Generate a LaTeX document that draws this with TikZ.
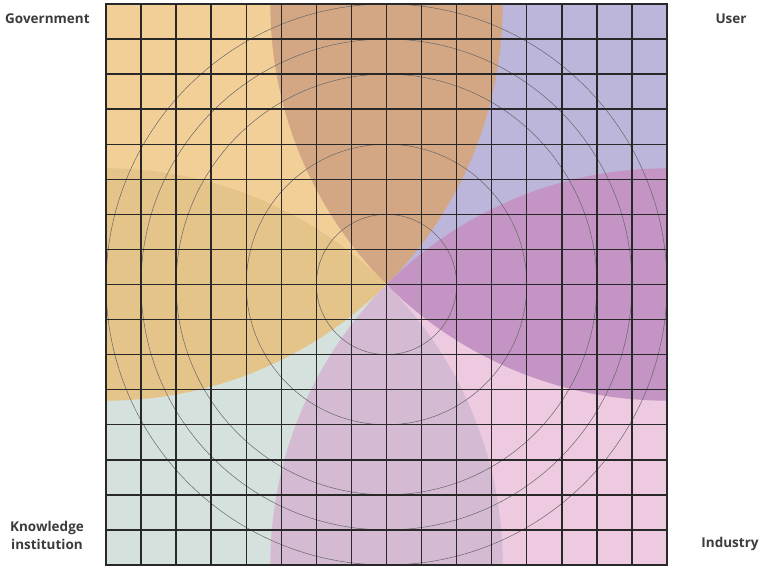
\documentclass[tikz,border=0pt]{standalone}
\usepackage{fontspec}
\setmainfont{Open Sans}
\usepackage{tikz}
\definecolor{GovOrange}{RGB}{243,207,152}
\definecolor{UserLavender}{RGB}{188,182,219}
\definecolor{KnowTeal}{RGB}{212,225,221}
\definecolor{IndPink}{RGB}{237,202,224}
\definecolor{GovUser}{RGB}{212,167,132}
\definecolor{GovKnow}{RGB}{229,196,137}
\definecolor{UserInd}{RGB}{196,148,196}
\definecolor{KnowInd}{RGB}{212,186,211}
\definecolor{LabelGrey}{RGB}{60,60,60}
\definecolor{LineGrey}{RGB}{40,40,40}
\newcommand{\cellsize}{35.0625}
\newcommand{\halfdiag}{396.69}

\begin{document}
\begin{tikzpicture}[x=1pt, y=1pt,
    tag/.style={text=LabelGrey, font=\fontsize{13.5}{18}\selectfont\bfseries, inner sep=0pt},
    gridline/.style={draw=LineGrey, line width=1.4pt},
    ring/.style={draw=black!60, line width=0.5pt}]
  \useasboundingbox[fill=white] (0,0) rectangle (759,567);
  \coordinate (sw) at (106,2);
  \coordinate (ne) at (667,563);
  \coordinate (nw) at (106,563);
  \coordinate (se) at (667,2);
  \coordinate (mid) at (386.5,282.5);
  % quadrants
  \fill[GovOrange] (nw) rectangle (mid);
  \fill[UserLavender] (ne) rectangle (mid);
  \fill[KnowTeal] (sw) rectangle (mid);
  \fill[IndPink] (se) rectangle (mid);
  % overlaps of the corner circles
  \begin{scope}
    \clip (sw) rectangle (ne);
    \begin{scope}
      \clip (nw) circle (\halfdiag);
      \fill[GovUser] (ne) circle (\halfdiag);
      \fill[GovKnow] (sw) circle (\halfdiag);
    \end{scope}
    \begin{scope}
      \clip (se) circle (\halfdiag);
      \fill[UserInd] (ne) circle (\halfdiag);
      \fill[KnowInd] (sw) circle (\halfdiag);
    \end{scope}
  \end{scope}
  % rings
  \foreach \r in {2,4,6,7,8}
    \draw[ring] (mid) circle ({\r*\cellsize});
  % grid
  \foreach \i in {0,...,16} {
    \draw[gridline] ({106+\i*\cellsize},2) -- ({106+\i*\cellsize},563);
    \draw[gridline] (106,{2+\i*\cellsize}) -- (667,{2+\i*\cellsize});
  }
  \draw[LineGrey, line width=1.8pt] (sw) rectangle (ne);
  % labels
  \node[tag, anchor=west] (gov) at (5,548) {Government};
  \node[tag] (user) at (731,548) {User};
  \node[tag, align=center] (know) at (47,32) {Knowledge\\institution};
  \node[tag] (ind) at (730,23) {Industry};
\end{tikzpicture}
\end{document}
